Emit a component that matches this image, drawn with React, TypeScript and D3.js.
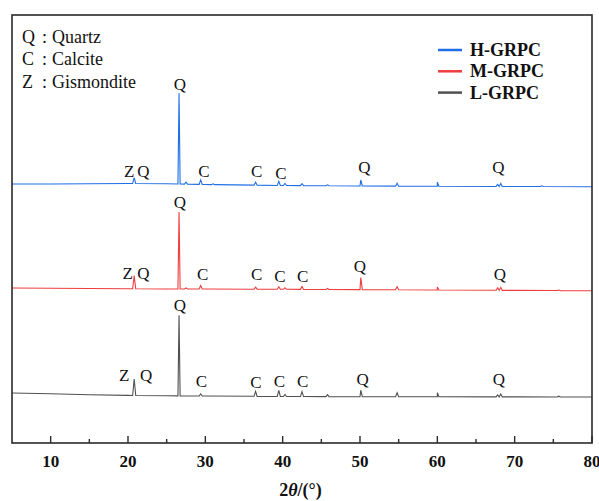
import React from "react";
import * as d3 from "d3";

// ---- data ----
const xTicks = [10, 20, 30, 40, 50, 60, 70, 80];
const xMinorTicks = [15, 25, 35, 45, 55, 65, 75];
const seriesNames = ["H-GRPC", "M-GRPC", "L-GRPC"];
const seriesColors = ["#1f6ee6", "#f03d3d", "#505050"];

// background (2θ, intensity)
const bgAngles = [5, 10, 15, 20, 25, 30, 40, 50, 60, 70, 80];
const bgH = [2590, 2590, 2592, 2595, 2592, 2585, 2575, 2570, 2567, 2565, 2563];
const bgM = [1550, 1548, 1545, 1543, 1540, 1540, 1537, 1534, 1530, 1526, 1523];
const bgL = [500, 492, 482, 476, 472, 470, 465, 463, 462, 461, 460];

// peaks: positions and heights above background
const peakPosH = [20.8, 26.6, 27.5, 29.4, 31.0, 36.5, 39.5, 40.3, 42.5, 45.8, 50.1, 54.8, 60.0, 67.8, 68.2, 73.5];
const peakHtH = [60, 910, 20, 45, 8, 30, 42, 20, 20, 10, 60, 30, 40, 20, 30, 8];
const peakPosM = [20.8, 26.6, 27.5, 29.4, 36.5, 39.5, 40.3, 42.5, 45.8, 50.1, 54.8, 60.0, 67.8, 68.2, 75.7];
const peakHtM = [130, 770, 10, 35, 20, 25, 15, 30, 10, 120, 30, 30, 25, 30, 6];
const peakPosL = [20.8, 26.6, 29.4, 36.5, 39.5, 40.3, 42.5, 45.8, 50.1, 54.8, 60.0, 67.8, 68.2, 75.7];
const peakHtL = [165, 805, 20, 50, 60, 20, 50, 20, 65, 40, 40, 20, 30, 8];

// phase labels: text, 2θ, intensity
const labTextH = ["Z", "Q", "Q", "C", "C", "C", "Q", "Q"];
const labXH = [20.17, 21.98, 26.72, 29.83, 36.64, 39.78, 50.56, 67.88];
const labYH = [2663, 2663, 3530, 2663, 2660, 2645, 2700, 2700];
const labTextM = ["Z", "Q", "Q", "C", "C", "C", "C", "Q", "Q"];
const labXM = [19.96, 21.98, 26.72, 29.66, 36.64, 39.66, 42.59, 50.0, 68.1];
const labYM = [1640, 1640, 2350, 1630, 1630, 1615, 1613, 1713, 1630];
const labTextL = ["Z", "Q", "Q", "C", "C", "C", "C", "Q", "Q"];
const labXL = [19.52, 22.33, 26.72, 29.48, 36.55, 39.57, 42.59, 50.35, 67.97];
const labYL = [623, 623, 1320, 563, 547, 560, 563, 580, 580];

const phaseKeys = ["Q", "C", "Z"];
const phaseNames = ["Quartz", "Calcite", "Gismondite"];

// ---- layout ----
const W = 599, H = 501;
const m = { left: 12, right: 7, top: 15, bottom: 58 };
const innerW = W - m.left - m.right;
const innerH = H - m.top - m.bottom;

const x = d3.scaleLinear().domain([5, 80]).range([m.left, m.left + innerW]);
const y = d3.scaleLinear().domain([0, 4280]).range([m.top + innerH, m.top]);

function buildSeries(bgY: number[], pos: number[], ht: number[]) {
  const bg = d3.scaleLinear().domain(bgAngles).range(bgY);
  const pts: [number, number][] = bgAngles.map((a, i) => [a, bgY[i]]);
  pos.forEach((p, i) => {
    const hw = ht[i] > 300 ? 0.14 : 0.2;
    pts.push([p - hw, bg(p - hw)]);
    pts.push([p, bg(p) + ht[i]]);
    pts.push([p + hw, bg(p + hw)]);
  });
  pts.sort((a, b) => a[0] - b[0]);
  return pts;
}

const series = [
  buildSeries(bgH, peakPosH, peakHtH),
  buildSeries(bgM, peakPosM, peakHtM),
  buildSeries(bgL, peakPosL, peakHtL),
];
const labels = [
  { t: labTextH, xs: labXH, ys: labYH },
  { t: labTextM, xs: labXM, ys: labYM },
  { t: labTextL, xs: labXL, ys: labYL },
];

const line = d3
  .line<[number, number]>()
  .x((d) => x(d[0]))
  .y((d) => y(d[1]));

const serif = '"Liberation Serif", "Times New Roman", Times, serif';
const tStyle = { fontFamily: serif };

export default function App() {
  const bottom = m.top + innerH;
  return (
    <svg
      width={W}
      height={H}
      style={{ position: "absolute", left: 0, top: 0, background: "#fff", fontFamily: serif }}
    >
      {/* series */}
      {series.map((s, i) => (
        <path key={i} d={line(s) || ""} fill="none" stroke={seriesColors[i]} strokeWidth={1.1} />
      ))}
      {/* phase labels */}
      {labels.map((L, i) =>
        L.t.map((t, j) => (
          <text key={i + "-" + j} x={x(L.xs[j])} y={y(L.ys[j])} style={tStyle} fontSize={17} textAnchor="middle" fill="#111">
            {t}
          </text>
        ))
      )}
      {/* frame */}
      <rect x={m.left} y={m.top} width={innerW} height={innerH} fill="none" stroke="#2a2a2a" strokeWidth={1.6} />
      {/* ticks */}
      {xTicks.map((t) => (
        <g key={t}>
          <line x1={x(t)} x2={x(t)} y1={bottom} y2={bottom - 7} stroke="#2a2a2a" strokeWidth={1.4} />
          <text x={x(t)} y={bottom + 24} style={tStyle} textAnchor="middle" fontSize={17} fontWeight="bold" fill="#111">
            {t}
          </text>
        </g>
      ))}
      {xMinorTicks.map((t) => (
        <line key={t} x1={x(t)} x2={x(t)} y1={bottom} y2={bottom - 4} stroke="#2a2a2a" strokeWidth={1.4} />
      ))}
      {/* axis title */}
      <text x={x(42.3)} y={496} style={tStyle} textAnchor="middle" fontSize={18} fontWeight="bold" fill="#111">
        2<tspan fontStyle="italic">θ</tspan>/(°)
      </text>
      {/* phase key */}
      {phaseKeys.map((k, i) => (
        <g key={k}>
          <text x={22} y={43 + i * 22.3} style={tStyle} fontSize={18} fill="#111">{k}</text>
          <text x={42} y={43 + i * 22.3} style={tStyle} fontSize={18} fill="#111">:</text>
          <text x={52} y={43 + i * 22.3} style={tStyle} fontSize={18} fill="#111">{phaseNames[i]}</text>
        </g>
      ))}
      {/* legend */}
      {seriesNames.map((n, i) => (
        <g key={n}>
          <line x1={438} x2={462} y1={50 + i * 21.3} y2={50 + i * 21.3} stroke={seriesColors[i]} strokeWidth={2.5} />
          <text x={470} y={56 + i * 21.3} style={tStyle} fontSize={18} fontWeight="bold" fill="#111">{n}</text>
        </g>
      ))}
    </svg>
  );
}
